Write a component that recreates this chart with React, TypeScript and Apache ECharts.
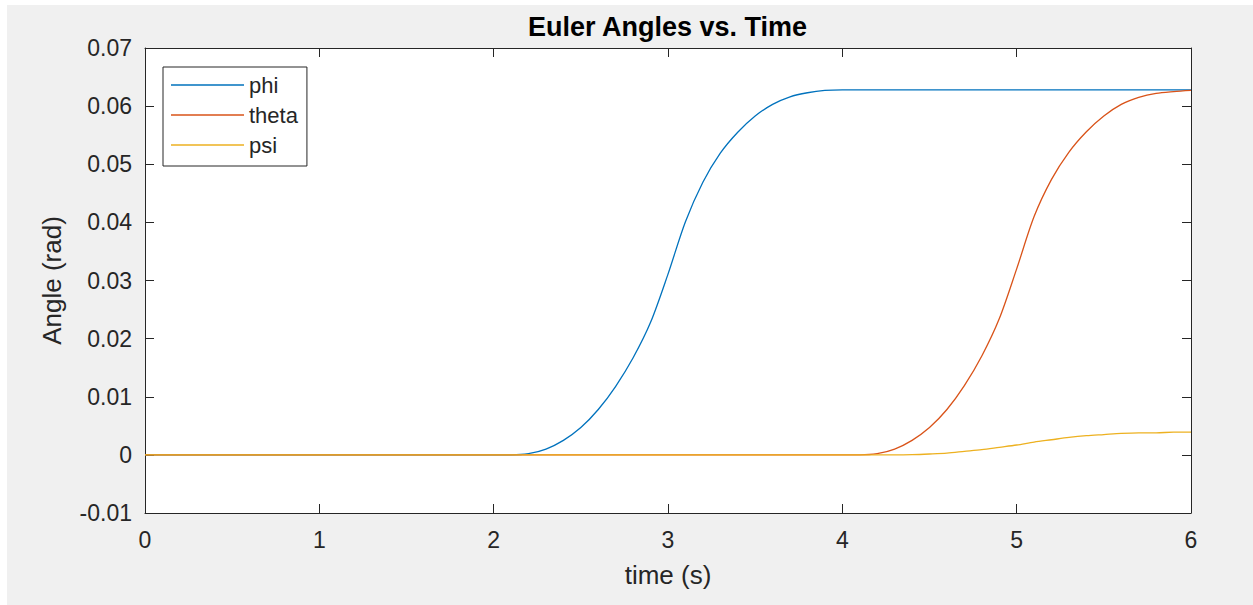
import { useEffect, useRef } from "react";
import * as echarts from "echarts";

// Sample times (s) shared by all three angle traces
const time = [
  0, 1, 2,
  2.1, 2.2, 2.3, 2.4, 2.5, 2.6, 2.7, 2.8, 2.9, 3.0,
  3.1, 3.2, 3.3, 3.4, 3.5, 3.6, 3.7, 3.8, 3.9, 4.0,
  4.1, 4.2, 4.3, 4.4, 4.5, 4.6, 4.7, 4.8, 4.9, 5.0,
  5.1, 5.2, 5.3, 5.4, 5.5, 5.6, 5.7, 5.8, 5.9, 6.0,
];

// Roll angle phi (rad)
const phi = [
  0, 0, 0,
  0, 0.0002, 0.001, 0.0025, 0.0047, 0.0078, 0.0118, 0.0167, 0.0228, 0.0311,
  0.0401, 0.0469, 0.0519, 0.0555, 0.0583, 0.0603, 0.0616, 0.0623, 0.0627, 0.0628,
  0.0628, 0.0628, 0.0628, 0.0628, 0.0628, 0.0628, 0.0628, 0.0628, 0.0628, 0.0628,
  0.0628, 0.0628, 0.0628, 0.0628, 0.0628, 0.0628, 0.0628, 0.0628, 0.0628, 0.0628,
];

// Pitch angle theta (rad)
const theta = [
  0, 0, 0,
  0, 0, 0, 0, 0, 0, 0, 0, 0, 0,
  0, 0, 0, 0, 0, 0, 0, 0, 0, 0,
  0, 0.0002, 0.001, 0.0025, 0.0047, 0.0078, 0.0119, 0.017, 0.0234, 0.032,
  0.041, 0.0474, 0.0521, 0.0556, 0.0583, 0.0603, 0.0615, 0.0622, 0.0625, 0.0627,
];

// Yaw angle psi (rad)
const psi = [
  0, 0, 0,
  0, 0, 0, 0, 0, 0, 0, 0, 0, 0,
  0, 0, 0, 0, 0, 0, 0, 0, 0, 0,
  0, 0, 0, 0.00004, 0.00015, 0.0003, 0.0006, 0.0009, 0.0013, 0.0017,
  0.0022, 0.0026, 0.003, 0.0033, 0.0035, 0.0037, 0.0038, 0.0038, 0.0039, 0.0039,
];

const seriesNames = ["phi", "theta", "psi"];
const seriesColors = ["#0072BD", "#D95319", "#EDB120"];

const FONT = "'Liberation Sans', Arial, Helvetica, sans-serif";
const INK = "#262626";

const tickCommon = {
  show: true,
  inside: true,
  length: 9,
  lineStyle: { color: INK, width: 1 },
};

const axisLineCommon = { show: true, onZero: false, lineStyle: { color: INK, width: 1 } };

function buildOption() {
  const values = [phi, theta, psi];
  return {
    animation: false,
    backgroundColor: "#f0f0f0",
    textStyle: { fontFamily: FONT },
    title: {
      text: "Euler Angles vs. Time",
      left: 660.5,
      top: 8,
      padding: 0,
      textAlign: "center",
      textStyle: { fontFamily: FONT, fontSize: 27, fontWeight: "bold", color: "#000" },
    },
    grid: {
      left: 138,
      top: 43,
      right: 62,
      bottom: 92,
      show: true,
      backgroundColor: "#fff",
      borderWidth: 0,
    },
    legend: {
      orient: "vertical",
      left: 156,
      top: 62,
      padding: [7, 9, 10, 8],
      itemWidth: 73,
      itemHeight: 1.3,
      itemGap: 8,
      borderColor: INK,
      borderWidth: 1,
      borderRadius: 0,
      backgroundColor: "#fff",
      data: seriesNames.map((name) => ({ name, icon: "rect" })),
      textStyle: { fontFamily: FONT, fontSize: 22, color: INK, lineHeight: 22 },
    },
    xAxis: [
      {
        type: "value",
        min: 0,
        max: 6,
        interval: 1,
        name: "time (s)",
        nameLocation: "middle",
        nameGap: 49,
        nameTextStyle: { fontFamily: FONT, fontSize: 26, color: INK },
        axisLine: axisLineCommon,
        axisTick: tickCommon,
        splitLine: { show: false },
        axisLabel: { fontFamily: FONT, fontSize: 23, color: INK, margin: 15 },
      },
      {
        type: "value",
        position: "top",
        min: 0,
        max: 6,
        interval: 1,
        axisLine: axisLineCommon,
        axisTick: tickCommon,
        splitLine: { show: false },
        axisLabel: { show: false },
      },
    ],
    yAxis: [
      {
        type: "value",
        min: -0.01,
        max: 0.07,
        interval: 0.01,
        name: "Angle (rad)",
        nameLocation: "middle",
        nameGap: 80,
        nameTextStyle: { fontFamily: FONT, fontSize: 26, color: INK },
        axisLine: axisLineCommon,
        axisTick: tickCommon,
        splitLine: { show: false },
        axisLabel: {
          fontFamily: FONT,
          fontSize: 23,
          color: INK,
          margin: 13,
          formatter: (v: number) => (Math.abs(v) < 1e-9 ? "0" : v.toFixed(2)),
        },
      },
      {
        type: "value",
        position: "right",
        min: -0.01,
        max: 0.07,
        interval: 0.01,
        axisLine: axisLineCommon,
        axisTick: tickCommon,
        splitLine: { show: false },
        axisLabel: { show: false },
      },
    ],
    series: seriesNames.map((name, k) => ({
      name,
      type: "line",
      xAxisIndex: 0,
      yAxisIndex: 0,
      data: time.map((t, i) => [t, values[k][i]]),
      symbol: "none",
      smooth: 0.3,
      color: seriesColors[k],
      lineStyle: { color: seriesColors[k], width: 1.3 },
      z: 2 + k,
    })),
  };
}

export default function App() {
  const ref = useRef<HTMLDivElement>(null);
  useEffect(() => {
    document.body.style.margin = "0";
    const chart = echarts.init(ref.current!, null, { renderer: "svg" });
    chart.setOption(buildOption() as any);
    return () => chart.dispose();
  }, []);
  return (
    <div style={{ position: "relative", width: 1253, height: 605, background: "#fff" }}>
      <div
        ref={ref}
        style={{ position: "absolute", left: 7, top: 5, width: 1246, height: 600 }}
      />
    </div>
  );
}
